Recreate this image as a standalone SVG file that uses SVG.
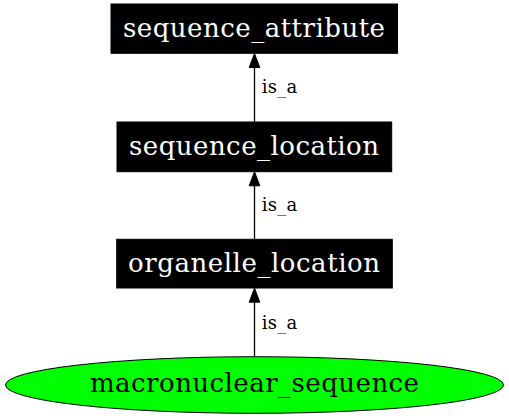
<svg xmlns="http://www.w3.org/2000/svg" width="509" height="419" viewBox="0 0 509 419">
<style>
.box{fill:#000;stroke:#000;stroke-width:1}
.ntext{font-family:"DejaVu Serif",serif;font-size:26px;fill:#fff;text-anchor:middle}
.etext{font-family:"DejaVu Serif",serif;font-size:18px;fill:#000}
.edge{stroke:#000;stroke-width:1.3;fill:none}
.head{fill:#000;stroke:#000;stroke-width:1}
</style>
<rect width="509" height="419" fill="#fff"/>
<g id="connectors">
  <g id="e1">
    <line class="edge" x1="254.5" y1="121.7" x2="254.5" y2="67"/>
    <polygon class="head" points="254.5,53.5 249.2,67.5 259.8,67.5"/>
    <text class="etext" x="261.7" y="93.3" textLength="35.6" lengthAdjust="spacing">is_a</text>
  </g>
  <g id="e2">
    <line class="edge" x1="254.5" y1="239.3" x2="254.5" y2="185"/>
    <polygon class="head" points="254.5,171.8 249.2,185.8 259.8,185.8"/>
    <text class="etext" x="261.7" y="211" textLength="35.6" lengthAdjust="spacing">is_a</text>
  </g>
  <g id="e3">
    <line class="edge" x1="254.5" y1="356.7" x2="254.5" y2="302"/>
    <polygon class="head" points="254.5,288.2 249.2,302.2 259.8,302.2"/>
    <text class="etext" x="261.7" y="328.5" textLength="35.6" lengthAdjust="spacing">is_a</text>
  </g>
</g>
<g id="sequence_attribute">
  <rect class="box" x="111" y="4" width="286.5" height="49.3"/>
  <text class="ntext" x="254" y="36.5" textLength="262" lengthAdjust="spacing">sequence_attribute</text>
</g>
<g id="sequence_location">
  <rect class="box" x="117" y="122" width="274.7" height="49.7"/>
  <text class="ntext" x="254" y="154.5" textLength="250" lengthAdjust="spacing">sequence_location</text>
</g>
<g id="organelle_location">
  <rect class="box" x="116.7" y="239.3" width="275.6" height="48.7"/>
  <text class="ntext" x="254" y="271.5" textLength="252" lengthAdjust="spacing">organelle_location</text>
</g>
<g id="macronuclear_sequence">
  <ellipse cx="254.5" cy="385" rx="249" ry="28.3" fill="#00ff00" stroke="#000" stroke-width="1"/>
  <text x="254.5" y="391.5" font-family="'DejaVu Serif',serif" font-size="26" fill="#000" text-anchor="middle" textLength="329" lengthAdjust="spacing">macronuclear_sequence</text>
</g>
</svg>
